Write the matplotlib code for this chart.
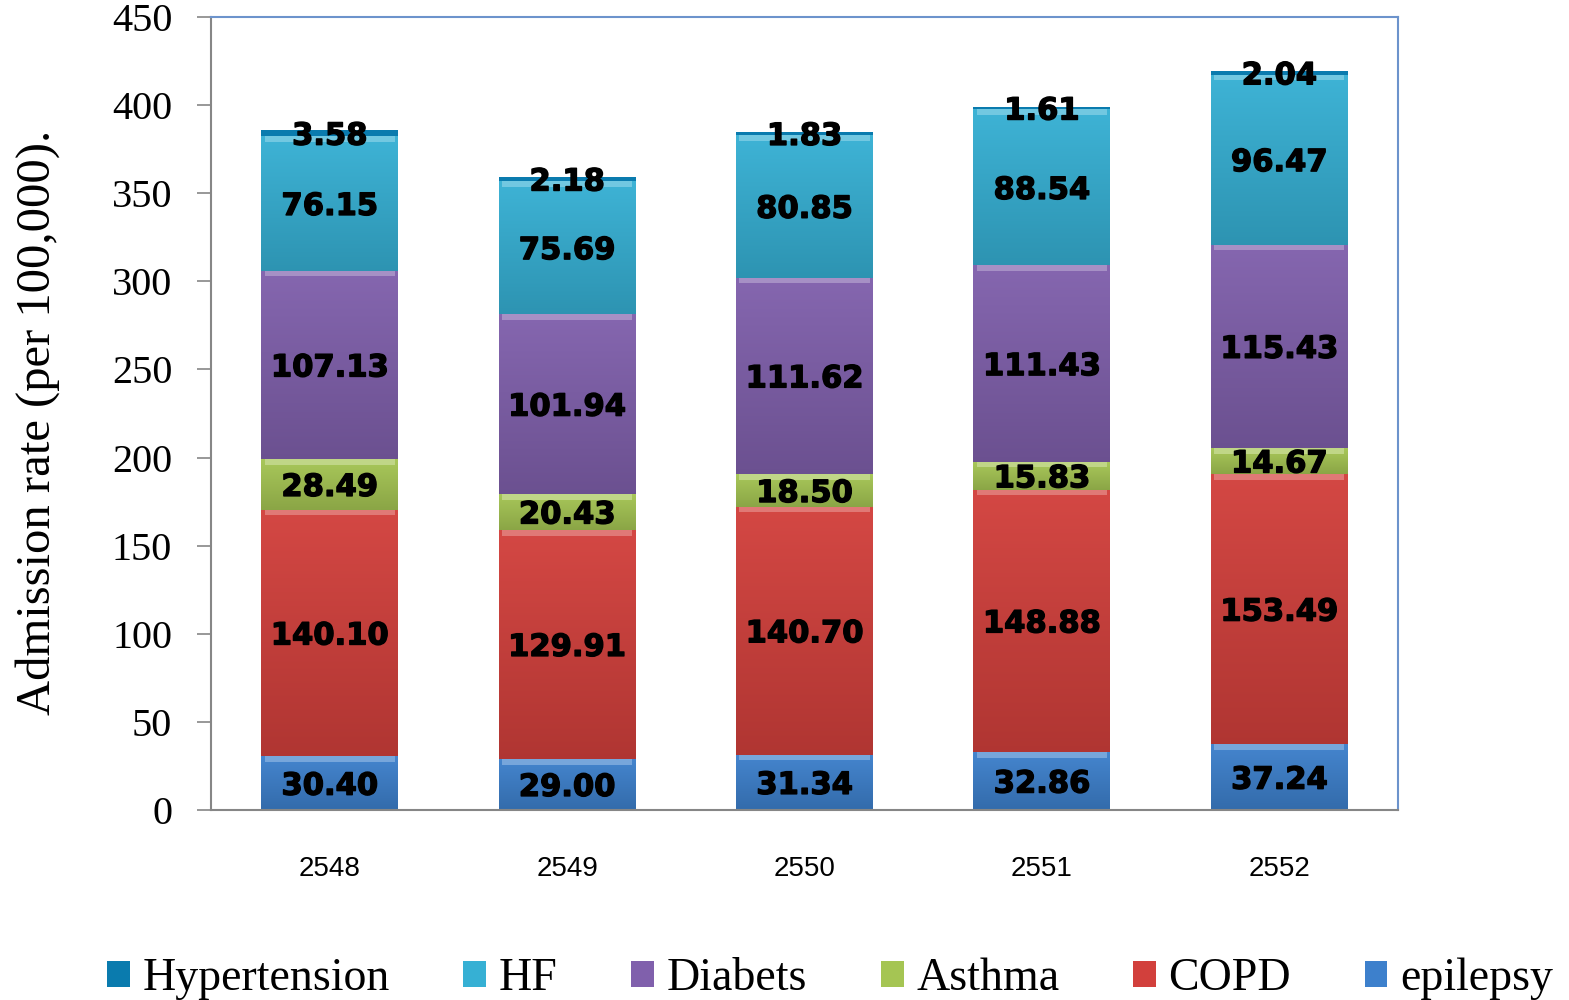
import numpy as np
import matplotlib
matplotlib.use("Agg")
import matplotlib.pyplot as plt
import matplotlib.patheffects as pe
from matplotlib.patches import Patch
from matplotlib.colors import to_rgb

years = ["2548", "2549", "2550", "2551", "2552"]
epilepsy = [30.40, 29.00, 31.34, 32.86, 37.24]
copd = [140.10, 129.91, 140.70, 148.88, 153.49]
asthma = [28.49, 20.43, 18.50, 15.83, 14.67]
diabets = [107.13, 101.94, 111.62, 111.43, 115.43]
hf = [76.15, 75.69, 80.85, 88.54, 96.47]
hypertension = [3.58, 2.18, 1.83, 1.61, 2.04]

series_names = ["epilepsy", "COPD", "Asthma", "Diabets", "HF", "Hypertension"]
series_vals = [epilepsy, copd, asthma, diabets, hf, hypertension]
colors = ["#3D80CC", "#D2403C", "#A5C553", "#8060AC", "#36B0D4", "#0A7BAE"]

fig = plt.figure(figsize=(15.69, 10.0), dpi=100)
ax = fig.add_axes([0.1345, 0.19, 0.7565, 0.793])

x = np.arange(len(years))
width = 0.577
bottom = np.zeros(len(years))

def shade(c, f):
    r, g, b = to_rgb(c)
    if f >= 0:
        return (r + (1 - r) * f, g + (1 - g) * f, b + (1 - b) * f)
    return (r * (1 + f), g * (1 + f), b * (1 + f))

for name, vals, col in zip(series_names, series_vals, colors):
    vals = np.array(vals)
    bars = ax.bar(x, vals, width, bottom=bottom, color=col, edgecolor="none", zorder=2)
    if name != "Hypertension":
        for b, xi, v, b0 in zip(bars, x, vals, bottom):
            grad = np.linspace(0, 1, 64).reshape(-1, 1)
            top_c = np.array(shade(col, 0.04))
            bot_c = np.array(shade(col, -0.16))
            img = top_c[None, None, :] * (1 - grad[:, :, None]) + bot_c[None, None, :] * grad[:, :, None]
            im = ax.imshow(img, extent=(xi - width / 2, xi + width / 2, b0, b0 + v),
                           aspect="auto", origin="upper", zorder=2.1, interpolation="bilinear")
            im.set_clip_path(b)
            ax.bar(xi, 3.2, width * 0.95, bottom=b0 + v - 3.2,
                   color=shade(col, 0.3), edgecolor="none", zorder=2.2)
    for xi, v, b0 in zip(x, vals, bottom):
        ax.text(xi, b0 + v / 2, f"{v:.2f}", ha="center", va="center_baseline",
                fontsize=22, fontweight="bold", family="DejaVu Sans", color="black", zorder=5,
                path_effects=[pe.withStroke(linewidth=1.0, foreground="black")])
    bottom = bottom + vals

ax.set_xlim(-0.5, len(years) - 0.5)
ax.set_ylim(0, 450)
ax.set_yticks(np.arange(0, 451, 50))
ax.set_yticklabels([str(v) for v in range(0, 451, 50)], family="Liberation Serif", fontsize=29)
ax.set_xticks(x)
ax.set_xticklabels(years, family="Liberation Sans", fontsize=20)
ax.tick_params(axis="x", length=0, pad=33)
ax.tick_params(axis="y", length=10, width=1.2, color="#868686", pad=18, direction="out")

for s in ["top", "right"]:
    ax.spines[s].set_color("#6C93CC")
    ax.spines[s].set_linewidth(1.5)
for s in ["left", "bottom"]:
    ax.spines[s].set_color("#868686")
    ax.spines[s].set_linewidth(1.5)

ax.set_ylabel("Admission rate (per 100,000).", family="Liberation Serif", fontsize=35)
ax.yaxis.set_label_coords(-0.127, 0.489)

handles = [Patch(facecolor=c, edgecolor="none") for c in colors[::-1]]
labels = series_names[::-1]
fig.legend(handles, labels, loc="center", bbox_to_anchor=(0.529, 0.021), ncol=6, frameon=False,
           prop={"family": "Liberation Serif", "size": 33}, handlelength=0.5, handleheight=0.5,
           handletextpad=0.28, columnspacing=1.6)

fig.savefig("out.png", dpi=100)
